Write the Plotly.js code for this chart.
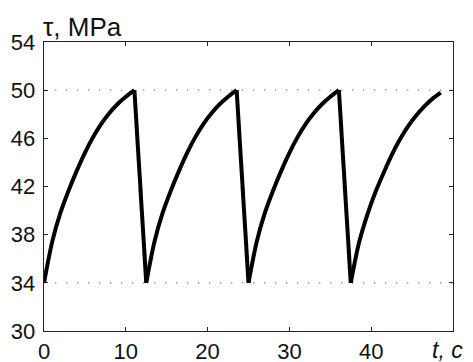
<!DOCTYPE html>
<html>
<head>
<meta charset="utf-8">
<script src="https://cdn.plot.ly/plotly-3.0.1.min.js"></script>
<style>
html,body{margin:0;padding:0;background:#fff;}
#chart{width:473px;height:362px;}
</style>
</head>
<body>
<div id="chart"></div>
<script>
// time, s
var timeS = [
  0, 1, 2, 3, 4, 5, 6, 7, 8, 9, 10, 11.05,
  12.5, 13.5, 14.5, 15.5, 16.5, 17.5, 18.5, 19.5, 20.5, 21.5, 22.5, 23.55,
  25, 26, 27, 28, 29, 30, 31, 32, 33, 34, 35, 36.05,
  37.5, 38.5, 39.5, 40.5, 41.5, 42.5, 43.5, 44.5, 45.5, 46.5, 47.5, 48.5
];
// shear stress tau, MPa
var tauMPa = [
  34, 37.4, 39.8, 41.65, 43.3, 44.8, 46.1, 47.2, 48.1, 48.85, 49.45, 50,
  34, 37.4, 39.8, 41.65, 43.3, 44.8, 46.1, 47.2, 48.1, 48.85, 49.45, 50,
  34, 37.4, 39.8, 41.65, 43.3, 44.8, 46.1, 47.2, 48.1, 48.85, 49.45, 50,
  34, 37.3, 39.6, 41.5, 43.1, 44.6, 45.9, 47.0, 47.9, 48.65, 49.3, 49.8
];
var refLevels = [34, 50];
var yTicks = [30, 34, 38, 42, 46, 50, 54];
var xTicks = [0, 10, 20, 30, 40];

// split the series into rising (smooth) and falling (straight) pieces
var traces = [];
var start = 0;
for (var i = 1; i <= timeS.length; i++) {
  var endOfRun = (i === timeS.length) ||
    ((tauMPa[i] > tauMPa[i - 1]) !== (tauMPa[start + 1] > tauMPa[start]));
  if (endOfRun) {
    var rising = tauMPa[start + 1] > tauMPa[start];
    traces.push({
      x: timeS.slice(start, i), y: tauMPa.slice(start, i),
      type: 'scatter', mode: 'lines', hoverinfo: 'skip',
      line: {color: '#000', width: 4, shape: rising ? 'spline' : 'linear', smoothing: 0.8}
    });
    start = i - 1;
  }
}

var shapes = refLevels.map(function (v) {
  return {type: 'line', xref: 'paper', x0: 0, x1: 1, yref: 'y', y0: v, y1: v,
    line: {color: '#888', width: 1.4, dash: '1.4px,9.6px'}, layer: 'below'};
});

var tickFont = {family: 'Liberation Sans, Arial, sans-serif', size: 22, color: '#111'};

var layout = {
  width: 473, height: 362,
  margin: {l: 44, r: 20, t: 42, b: 31, pad: 0},
  paper_bgcolor: '#fff', plot_bgcolor: '#fff',
  showlegend: false,
  xaxis: {
    range: [0, 50], tickvals: xTicks, ticktext: xTicks.map(String),
    ticks: 'inside', ticklen: 4, tickwidth: 1, tickcolor: '#222',
    showline: true, linecolor: '#222', linewidth: 1.3, mirror: 'ticks',
    showgrid: false, zeroline: false, tickfont: tickFont, ticklabelstandoff: 0
  },
  yaxis: {
    range: [30, 54], tickvals: yTicks, ticktext: yTicks.map(String),
    ticks: 'inside', ticklen: 4, tickwidth: 1, tickcolor: '#222',
    showline: true, linecolor: '#222', linewidth: 1.3, mirror: 'ticks',
    showgrid: false, zeroline: false, tickfont: tickFont, ticklabelstandoff: 3
  },
  shapes: shapes,
  annotations: [
    {text: 'τ, MPa', xref: 'paper', yref: 'paper', x: 0, y: 1, xanchor: 'left', yanchor: 'bottom',
     showarrow: false, yshift: -2, xshift: -3,
     font: {family: 'Liberation Sans, Arial, sans-serif', size: 26, color: '#111'}},
    {text: '<i>t, c</i>', xref: 'paper', yref: 'paper', x: 1, y: 0, xanchor: 'left', yanchor: 'top',
     showarrow: false, xshift: -23, yshift: -4,
     font: {family: 'Liberation Sans, Arial, sans-serif', size: 23, color: '#111'}}
  ]
};

Plotly.newPlot('chart', traces, layout, {staticPlot: true, displayModeBar: false});
</script>
</body>
</html>
